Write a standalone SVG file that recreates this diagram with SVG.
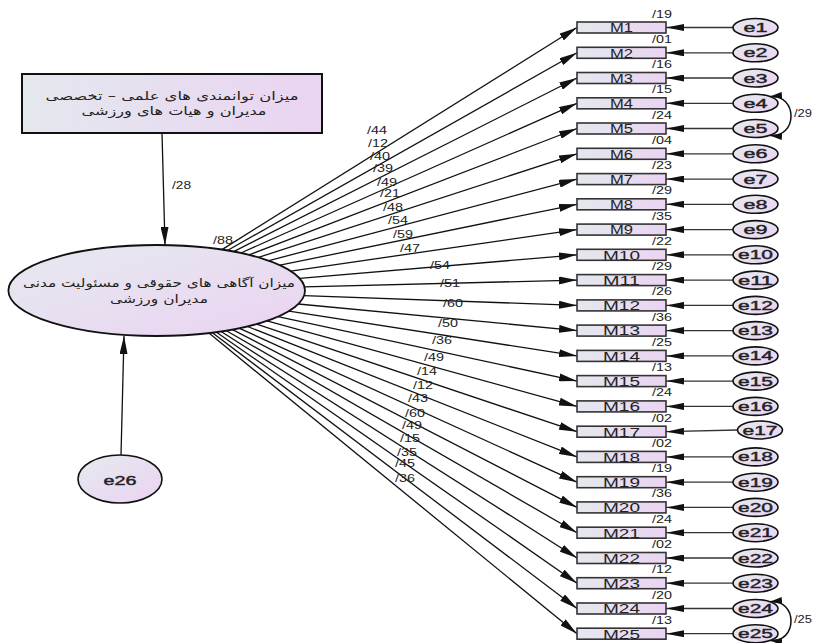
<svg xmlns="http://www.w3.org/2000/svg" width="813" height="643" viewBox="0 0 813 643">
<style>
.m{fill:url(#gh);stroke:#333;stroke-width:1.6}
.e{fill:url(#gd);stroke:#111;stroke-width:1.6}
.big{fill:url(#gd);stroke:#111;stroke-width:1.8}
.ml{font-family:"Liberation Sans",Arial,sans-serif;font-size:12.5px;fill:#222;text-anchor:middle}
.el{font-family:"Liberation Sans",Arial,sans-serif;font-size:12.5px;fill:#222;text-anchor:middle;stroke:#222;stroke-width:0.4}
.r2{font-family:"Liberation Sans",Arial,sans-serif;font-size:10.5px;fill:#222;text-anchor:end}
.pl{font-family:"Liberation Sans",Arial,sans-serif;font-size:10.5px;fill:#222}
.fa{font-family:"DejaVu Sans","Noto Sans",sans-serif;font-size:11.5px;fill:#222;text-anchor:middle}
.p{stroke:#111;stroke-width:1.3;fill:none;marker-end:url(#ah)}
.q{stroke:#333;stroke-width:1.3;fill:none;marker-end:url(#ah2)}
.c{stroke:#111;stroke-width:1.5;fill:none;marker-start:url(#ah3);marker-end:url(#ah3)}
</style>
<defs>
<linearGradient id="gh" x1="0" y1="0" x2="1" y2="0"><stop offset="0" stop-color="#e4e8ee"/><stop offset="1" stop-color="#ead4f2"/></linearGradient>
<linearGradient id="gd" x1="0" y1="0" x2="1" y2="1"><stop offset="0" stop-color="#e6eaef"/><stop offset="1" stop-color="#ead3f2"/></linearGradient>
<marker id="ah" viewBox="0 0 18 8" refX="18" refY="4" markerWidth="18" markerHeight="8" markerUnits="userSpaceOnUse" orient="auto"><path d="M0,0 L18,4 L0,8 z" fill="#111"/></marker>
<marker id="ah2" viewBox="0 0 18 7" refX="18" refY="3.5" markerWidth="18" markerHeight="7" markerUnits="userSpaceOnUse" orient="auto"><path d="M0,0 L18,3.5 L0,7 z" fill="#111"/></marker>
<marker id="ah3" viewBox="0 0 12 7" refX="12" refY="3.5" markerWidth="12" markerHeight="7" markerUnits="userSpaceOnUse" orient="auto-start-reverse"><path d="M0,0 L12,3.5 L0,7 z" fill="#111"/></marker>
</defs>
<rect width="813" height="643" fill="#fff"/>

<g id="connectors">
<line class="p" x1="162" y1="133" x2="165" y2="245"/>
<line class="p" x1="121" y1="455" x2="124" y2="336"/>
<line class="p" x1="222.0" y1="249.6" x2="577" y2="27.5"/>
<line class="p" x1="227.4" y1="250.5" x2="577" y2="52.8"/>
<line class="p" x1="233.6" y1="251.6" x2="577" y2="78.0"/>
<line class="p" x1="240.8" y1="253.0" x2="577" y2="103.3"/>
<line class="p" x1="249.1" y1="254.9" x2="577" y2="128.5"/>
<line class="p" x1="258.5" y1="257.4" x2="577" y2="153.8"/>
<line class="p" x1="268.9" y1="260.7" x2="577" y2="179.1"/>
<line class="p" x1="280.0" y1="265.2" x2="577" y2="204.3"/>
<line class="p" x1="290.8" y1="271.1" x2="577" y2="229.6"/>
<line class="p" x1="299.6" y1="278.4" x2="577" y2="254.8"/>
<line class="p" x1="304.5" y1="286.8" x2="577" y2="280.1"/>
<line class="p" x1="304.0" y1="295.7" x2="577" y2="305.4"/>
<line class="p" x1="298.3" y1="304.0" x2="577" y2="330.6"/>
<line class="p" x1="289.0" y1="311.1" x2="577" y2="355.9"/>
<line class="p" x1="278.0" y1="316.7" x2="577" y2="381.1"/>
<line class="p" x1="267.0" y1="320.9" x2="577" y2="406.4"/>
<line class="p" x1="256.7" y1="324.1" x2="577" y2="431.7"/>
<line class="p" x1="247.5" y1="326.5" x2="577" y2="456.9"/>
<line class="p" x1="239.5" y1="328.3" x2="577" y2="482.2"/>
<line class="p" x1="232.5" y1="329.6" x2="577" y2="507.4"/>
<line class="p" x1="226.4" y1="330.7" x2="577" y2="532.7"/>
<line class="p" x1="221.1" y1="331.5" x2="577" y2="558.0"/>
<line class="p" x1="216.5" y1="332.2" x2="577" y2="583.2"/>
<line class="p" x1="212.4" y1="332.7" x2="577" y2="608.5"/>
<line class="p" x1="208.9" y1="333.1" x2="577" y2="633.7"/>
<line class="q" x1="733" y1="27.5" x2="666" y2="27.5"/>
<line class="q" x1="733" y1="52.8" x2="666" y2="52.8"/>
<line class="q" x1="733" y1="78.0" x2="666" y2="78.0"/>
<line class="q" x1="733" y1="103.3" x2="666" y2="103.3"/>
<line class="q" x1="733" y1="128.5" x2="666" y2="128.5"/>
<line class="q" x1="733" y1="153.8" x2="666" y2="153.8"/>
<line class="q" x1="733" y1="179.1" x2="666" y2="179.1"/>
<line class="q" x1="733" y1="204.3" x2="666" y2="204.3"/>
<line class="q" x1="733" y1="229.6" x2="666" y2="229.6"/>
<line class="q" x1="733" y1="254.8" x2="666" y2="254.8"/>
<line class="q" x1="733" y1="280.1" x2="666" y2="280.1"/>
<line class="q" x1="733" y1="305.4" x2="666" y2="305.4"/>
<line class="q" x1="733" y1="330.6" x2="666" y2="330.6"/>
<line class="q" x1="733" y1="355.9" x2="666" y2="355.9"/>
<line class="q" x1="733" y1="381.1" x2="666" y2="381.1"/>
<line class="q" x1="733" y1="406.4" x2="666" y2="406.4"/>
<line class="q" x1="737.5" y1="430" x2="666" y2="431.7"/>
<line class="q" x1="733" y1="456.9" x2="666" y2="456.9"/>
<line class="q" x1="733" y1="482.2" x2="666" y2="482.2"/>
<line class="q" x1="733" y1="507.4" x2="666" y2="507.4"/>
<line class="q" x1="733" y1="532.7" x2="666" y2="532.7"/>
<line class="q" x1="733" y1="558.0" x2="666" y2="558.0"/>
<line class="q" x1="733" y1="583.2" x2="666" y2="583.2"/>
<line class="q" x1="733" y1="608.5" x2="666" y2="608.5"/>
<line class="q" x1="733" y1="633.7" x2="666" y2="633.7"/>
<path class="c" d="M770,96.5 C798,94 798,138 770,135.5"/>
<path class="c" d="M770,601.7 C798,599 798,643 770,640.5"/>
</g>

<g id="path-labels">
<text class="pl" x="172" y="189" textLength="19" lengthAdjust="spacingAndGlyphs">/28</text>
<text class="pl" x="213" y="244" textLength="20" lengthAdjust="spacingAndGlyphs">/88</text>
<text class="pl" x="367" y="134" textLength="20" lengthAdjust="spacingAndGlyphs">/44</text>
<text class="pl" x="368" y="147" textLength="20" lengthAdjust="spacingAndGlyphs">/12</text>
<text class="pl" x="370" y="160" textLength="20" lengthAdjust="spacingAndGlyphs">/40</text>
<text class="pl" x="373" y="172" textLength="20" lengthAdjust="spacingAndGlyphs">/39</text>
<text class="pl" x="377" y="186" textLength="20" lengthAdjust="spacingAndGlyphs">/49</text>
<text class="pl" x="380" y="197" textLength="20" lengthAdjust="spacingAndGlyphs">/21</text>
<text class="pl" x="383" y="211" textLength="20" lengthAdjust="spacingAndGlyphs">/48</text>
<text class="pl" x="388" y="224" textLength="20" lengthAdjust="spacingAndGlyphs">/54</text>
<text class="pl" x="393" y="238" textLength="20" lengthAdjust="spacingAndGlyphs">/59</text>
<text class="pl" x="400" y="252" textLength="20" lengthAdjust="spacingAndGlyphs">/47</text>
<text class="pl" x="430" y="269" textLength="20" lengthAdjust="spacingAndGlyphs">/54</text>
<text class="pl" x="440" y="287" textLength="20" lengthAdjust="spacingAndGlyphs">/51</text>
<text class="pl" x="443" y="307" textLength="20" lengthAdjust="spacingAndGlyphs">/60</text>
<text class="pl" x="438" y="327" textLength="20" lengthAdjust="spacingAndGlyphs">/50</text>
<text class="pl" x="432" y="344" textLength="20" lengthAdjust="spacingAndGlyphs">/36</text>
<text class="pl" x="424" y="361" textLength="20" lengthAdjust="spacingAndGlyphs">/49</text>
<text class="pl" x="417" y="375" textLength="20" lengthAdjust="spacingAndGlyphs">/14</text>
<text class="pl" x="413" y="389" textLength="20" lengthAdjust="spacingAndGlyphs">/12</text>
<text class="pl" x="408" y="402" textLength="20" lengthAdjust="spacingAndGlyphs">/43</text>
<text class="pl" x="405" y="417" textLength="20" lengthAdjust="spacingAndGlyphs">/60</text>
<text class="pl" x="402" y="429" textLength="20" lengthAdjust="spacingAndGlyphs">/49</text>
<text class="pl" x="400" y="442" textLength="20" lengthAdjust="spacingAndGlyphs">/15</text>
<text class="pl" x="397" y="456" textLength="20" lengthAdjust="spacingAndGlyphs">/35</text>
<text class="pl" x="395" y="467" textLength="20" lengthAdjust="spacingAndGlyphs">/45</text>
<text class="pl" x="395" y="482" textLength="20" lengthAdjust="spacingAndGlyphs">/36</text>
<text class="pl" x="794" y="117" textLength="18" lengthAdjust="spacingAndGlyphs">/29</text>
<text class="pl" x="794" y="623" textLength="18" lengthAdjust="spacingAndGlyphs">/25</text>
</g>

<g id="box-top">
<rect x="22" y="74" width="300" height="59" fill="url(#gh)" stroke="#111" stroke-width="2"/>
<text class="fa" x="172" y="100" textLength="253" lengthAdjust="spacingAndGlyphs">میزان توانمندی های علمی – تخصصی</text>
<text class="fa" x="174" y="115" textLength="185" lengthAdjust="spacingAndGlyphs">مدیران و هیات های ورزشی</text>
</g>

<g id="latent">
<ellipse class="big" cx="156.7" cy="290.5" rx="148.3" ry="45.5"/>
<text class="fa" x="159" y="287" textLength="272" lengthAdjust="spacingAndGlyphs">میزان آگاهی های حقوقی و مسئولیت مدنی</text>
<text class="fa" x="159" y="302.5" textLength="98" lengthAdjust="spacingAndGlyphs">مدیران ورزشی</text>
</g>

<g id="e26">
<ellipse class="e" cx="120" cy="479" rx="42" ry="24"/>
<text class="el" x="120" y="485" textLength="33" lengthAdjust="spacingAndGlyphs">e26</text>
</g>

<g id="M1"><rect class="m" x="577" y="22.0" width="89" height="11"/><text class="ml" x="621.5" y="32.3" textLength="23" lengthAdjust="spacingAndGlyphs">M1</text><text class="r2" x="672" y="17.5" textLength="20" lengthAdjust="spacingAndGlyphs">/19</text></g>
<g id="M2"><rect class="m" x="577" y="47.3" width="89" height="11"/><text class="ml" x="621.5" y="57.6" textLength="23" lengthAdjust="spacingAndGlyphs">M2</text><text class="r2" x="672" y="42.8" textLength="20" lengthAdjust="spacingAndGlyphs">/01</text></g>
<g id="M3"><rect class="m" x="577" y="72.5" width="89" height="11"/><text class="ml" x="621.5" y="82.8" textLength="23" lengthAdjust="spacingAndGlyphs">M3</text><text class="r2" x="672" y="68.0" textLength="20" lengthAdjust="spacingAndGlyphs">/16</text></g>
<g id="M4"><rect class="m" x="577" y="97.8" width="89" height="11"/><text class="ml" x="621.5" y="108.1" textLength="23" lengthAdjust="spacingAndGlyphs">M4</text><text class="r2" x="672" y="93.3" textLength="20" lengthAdjust="spacingAndGlyphs">/15</text></g>
<g id="M5"><rect class="m" x="577" y="123.0" width="89" height="11"/><text class="ml" x="621.5" y="133.3" textLength="23" lengthAdjust="spacingAndGlyphs">M5</text><text class="r2" x="672" y="118.5" textLength="20" lengthAdjust="spacingAndGlyphs">/24</text></g>
<g id="M6"><rect class="m" x="577" y="148.3" width="89" height="11"/><text class="ml" x="621.5" y="158.6" textLength="23" lengthAdjust="spacingAndGlyphs">M6</text><text class="r2" x="672" y="143.8" textLength="20" lengthAdjust="spacingAndGlyphs">/04</text></g>
<g id="M7"><rect class="m" x="577" y="173.6" width="89" height="11"/><text class="ml" x="621.5" y="183.9" textLength="23" lengthAdjust="spacingAndGlyphs">M7</text><text class="r2" x="672" y="169.1" textLength="20" lengthAdjust="spacingAndGlyphs">/23</text></g>
<g id="M8"><rect class="m" x="577" y="198.8" width="89" height="11"/><text class="ml" x="621.5" y="209.1" textLength="23" lengthAdjust="spacingAndGlyphs">M8</text><text class="r2" x="672" y="194.3" textLength="20" lengthAdjust="spacingAndGlyphs">/29</text></g>
<g id="M9"><rect class="m" x="577" y="224.1" width="89" height="11"/><text class="ml" x="621.5" y="234.4" textLength="23" lengthAdjust="spacingAndGlyphs">M9</text><text class="r2" x="672" y="219.6" textLength="20" lengthAdjust="spacingAndGlyphs">/35</text></g>
<g id="M10"><rect class="m" x="577" y="249.3" width="89" height="11"/><text class="ml" x="621.5" y="259.6" textLength="37" lengthAdjust="spacingAndGlyphs">M10</text><text class="r2" x="672" y="244.8" textLength="20" lengthAdjust="spacingAndGlyphs">/22</text></g>
<g id="M11"><rect class="m" x="577" y="274.6" width="89" height="11"/><text class="ml" x="621.5" y="284.9" textLength="37" lengthAdjust="spacingAndGlyphs">M11</text><text class="r2" x="672" y="270.1" textLength="20" lengthAdjust="spacingAndGlyphs">/29</text></g>
<g id="M12"><rect class="m" x="577" y="299.9" width="89" height="11"/><text class="ml" x="621.5" y="310.2" textLength="37" lengthAdjust="spacingAndGlyphs">M12</text><text class="r2" x="672" y="295.4" textLength="20" lengthAdjust="spacingAndGlyphs">/26</text></g>
<g id="M13"><rect class="m" x="577" y="325.1" width="89" height="11"/><text class="ml" x="621.5" y="335.4" textLength="37" lengthAdjust="spacingAndGlyphs">M13</text><text class="r2" x="672" y="320.6" textLength="20" lengthAdjust="spacingAndGlyphs">/36</text></g>
<g id="M14"><rect class="m" x="577" y="350.4" width="89" height="11"/><text class="ml" x="621.5" y="360.7" textLength="37" lengthAdjust="spacingAndGlyphs">M14</text><text class="r2" x="672" y="345.9" textLength="20" lengthAdjust="spacingAndGlyphs">/25</text></g>
<g id="M15"><rect class="m" x="577" y="375.6" width="89" height="11"/><text class="ml" x="621.5" y="385.9" textLength="37" lengthAdjust="spacingAndGlyphs">M15</text><text class="r2" x="672" y="371.1" textLength="20" lengthAdjust="spacingAndGlyphs">/13</text></g>
<g id="M16"><rect class="m" x="577" y="400.9" width="89" height="11"/><text class="ml" x="621.5" y="411.2" textLength="37" lengthAdjust="spacingAndGlyphs">M16</text><text class="r2" x="672" y="396.4" textLength="20" lengthAdjust="spacingAndGlyphs">/24</text></g>
<g id="M17"><rect class="m" x="577" y="426.2" width="89" height="11"/><text class="ml" x="621.5" y="436.5" textLength="37" lengthAdjust="spacingAndGlyphs">M17</text><text class="r2" x="672" y="421.7" textLength="20" lengthAdjust="spacingAndGlyphs">/02</text></g>
<g id="M18"><rect class="m" x="577" y="451.4" width="89" height="11"/><text class="ml" x="621.5" y="461.7" textLength="37" lengthAdjust="spacingAndGlyphs">M18</text><text class="r2" x="672" y="446.9" textLength="20" lengthAdjust="spacingAndGlyphs">/02</text></g>
<g id="M19"><rect class="m" x="577" y="476.7" width="89" height="11"/><text class="ml" x="621.5" y="487.0" textLength="37" lengthAdjust="spacingAndGlyphs">M19</text><text class="r2" x="672" y="472.2" textLength="20" lengthAdjust="spacingAndGlyphs">/19</text></g>
<g id="M20"><rect class="m" x="577" y="501.9" width="89" height="11"/><text class="ml" x="621.5" y="512.2" textLength="37" lengthAdjust="spacingAndGlyphs">M20</text><text class="r2" x="672" y="497.4" textLength="20" lengthAdjust="spacingAndGlyphs">/36</text></g>
<g id="M21"><rect class="m" x="577" y="527.2" width="89" height="11"/><text class="ml" x="621.5" y="537.5" textLength="37" lengthAdjust="spacingAndGlyphs">M21</text><text class="r2" x="672" y="522.7" textLength="20" lengthAdjust="spacingAndGlyphs">/24</text></g>
<g id="M22"><rect class="m" x="577" y="552.5" width="89" height="11"/><text class="ml" x="621.5" y="562.8" textLength="37" lengthAdjust="spacingAndGlyphs">M22</text><text class="r2" x="672" y="548.0" textLength="20" lengthAdjust="spacingAndGlyphs">/02</text></g>
<g id="M23"><rect class="m" x="577" y="577.7" width="89" height="11"/><text class="ml" x="621.5" y="588.0" textLength="37" lengthAdjust="spacingAndGlyphs">M23</text><text class="r2" x="672" y="573.2" textLength="20" lengthAdjust="spacingAndGlyphs">/12</text></g>
<g id="M24"><rect class="m" x="577" y="603.0" width="89" height="11"/><text class="ml" x="621.5" y="613.3" textLength="37" lengthAdjust="spacingAndGlyphs">M24</text><text class="r2" x="672" y="598.5" textLength="20" lengthAdjust="spacingAndGlyphs">/20</text></g>
<g id="M25"><rect class="m" x="577" y="628.2" width="89" height="11"/><text class="ml" x="621.5" y="638.5" textLength="37" lengthAdjust="spacingAndGlyphs">M25</text><text class="r2" x="672" y="623.7" textLength="20" lengthAdjust="spacingAndGlyphs">/13</text></g>

<g id="e1"><ellipse class="e" cx="755.5" cy="27.5" rx="22.5" ry="9"/><text class="el" x="755.5" y="32.0" textLength="24" lengthAdjust="spacingAndGlyphs">e1</text></g>
<g id="e2"><ellipse class="e" cx="755.5" cy="52.8" rx="22.5" ry="9"/><text class="el" x="755.5" y="57.3" textLength="24" lengthAdjust="spacingAndGlyphs">e2</text></g>
<g id="e3"><ellipse class="e" cx="755.5" cy="78.0" rx="22.5" ry="9"/><text class="el" x="755.5" y="82.5" textLength="24" lengthAdjust="spacingAndGlyphs">e3</text></g>
<g id="e4"><ellipse class="e" cx="755.5" cy="103.3" rx="22.5" ry="9"/><text class="el" x="755.5" y="107.8" textLength="24" lengthAdjust="spacingAndGlyphs">e4</text></g>
<g id="e5"><ellipse class="e" cx="755.5" cy="128.5" rx="22.5" ry="9"/><text class="el" x="755.5" y="133.0" textLength="24" lengthAdjust="spacingAndGlyphs">e5</text></g>
<g id="e6"><ellipse class="e" cx="755.5" cy="153.8" rx="22.5" ry="9"/><text class="el" x="755.5" y="158.3" textLength="24" lengthAdjust="spacingAndGlyphs">e6</text></g>
<g id="e7"><ellipse class="e" cx="755.5" cy="179.1" rx="22.5" ry="9"/><text class="el" x="755.5" y="183.6" textLength="24" lengthAdjust="spacingAndGlyphs">e7</text></g>
<g id="e8"><ellipse class="e" cx="755.5" cy="204.3" rx="22.5" ry="9"/><text class="el" x="755.5" y="208.8" textLength="24" lengthAdjust="spacingAndGlyphs">e8</text></g>
<g id="e9"><ellipse class="e" cx="755.5" cy="229.6" rx="22.5" ry="9"/><text class="el" x="755.5" y="234.1" textLength="24" lengthAdjust="spacingAndGlyphs">e9</text></g>
<g id="e10"><ellipse class="e" cx="755.5" cy="254.8" rx="22.5" ry="9"/><text class="el" x="755.5" y="259.3" textLength="35" lengthAdjust="spacingAndGlyphs">e10</text></g>
<g id="e11"><ellipse class="e" cx="755.5" cy="280.1" rx="22.5" ry="9"/><text class="el" x="755.5" y="284.6" textLength="35" lengthAdjust="spacingAndGlyphs">e11</text></g>
<g id="e12"><ellipse class="e" cx="755.5" cy="305.4" rx="22.5" ry="9"/><text class="el" x="755.5" y="309.9" textLength="35" lengthAdjust="spacingAndGlyphs">e12</text></g>
<g id="e13"><ellipse class="e" cx="755.5" cy="330.6" rx="22.5" ry="9"/><text class="el" x="755.5" y="335.1" textLength="35" lengthAdjust="spacingAndGlyphs">e13</text></g>
<g id="e14"><ellipse class="e" cx="755.5" cy="355.9" rx="22.5" ry="9"/><text class="el" x="755.5" y="360.4" textLength="35" lengthAdjust="spacingAndGlyphs">e14</text></g>
<g id="e15"><ellipse class="e" cx="755.5" cy="381.1" rx="22.5" ry="9"/><text class="el" x="755.5" y="385.6" textLength="35" lengthAdjust="spacingAndGlyphs">e15</text></g>
<g id="e16"><ellipse class="e" cx="755.5" cy="406.4" rx="22.5" ry="9"/><text class="el" x="755.5" y="410.9" textLength="35" lengthAdjust="spacingAndGlyphs">e16</text></g>
<g id="e17"><ellipse class="e" cx="760" cy="430" rx="22.5" ry="9"/><text class="el" x="760" y="434.5" textLength="35" lengthAdjust="spacingAndGlyphs">e17</text></g>
<g id="e18"><ellipse class="e" cx="755.5" cy="456.9" rx="22.5" ry="9"/><text class="el" x="755.5" y="461.4" textLength="35" lengthAdjust="spacingAndGlyphs">e18</text></g>
<g id="e19"><ellipse class="e" cx="755.5" cy="482.2" rx="22.5" ry="9"/><text class="el" x="755.5" y="486.7" textLength="35" lengthAdjust="spacingAndGlyphs">e19</text></g>
<g id="e20"><ellipse class="e" cx="755.5" cy="507.4" rx="22.5" ry="9"/><text class="el" x="755.5" y="511.9" textLength="35" lengthAdjust="spacingAndGlyphs">e20</text></g>
<g id="e21"><ellipse class="e" cx="755.5" cy="532.7" rx="22.5" ry="9"/><text class="el" x="755.5" y="537.2" textLength="35" lengthAdjust="spacingAndGlyphs">e21</text></g>
<g id="e22"><ellipse class="e" cx="755.5" cy="558.0" rx="22.5" ry="9"/><text class="el" x="755.5" y="562.5" textLength="35" lengthAdjust="spacingAndGlyphs">e22</text></g>
<g id="e23"><ellipse class="e" cx="755.5" cy="583.2" rx="22.5" ry="9"/><text class="el" x="755.5" y="587.7" textLength="35" lengthAdjust="spacingAndGlyphs">e23</text></g>
<g id="e24"><ellipse class="e" cx="755.5" cy="608.5" rx="22.5" ry="9"/><text class="el" x="755.5" y="613.0" textLength="35" lengthAdjust="spacingAndGlyphs">e24</text></g>
<g id="e25"><ellipse class="e" cx="755.5" cy="633.7" rx="22.5" ry="9"/><text class="el" x="755.5" y="638.2" textLength="35" lengthAdjust="spacingAndGlyphs">e25</text></g>
</svg>
